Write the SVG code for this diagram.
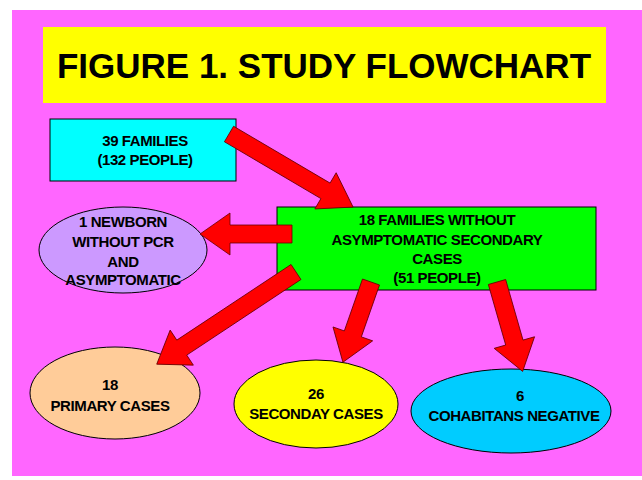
<svg xmlns="http://www.w3.org/2000/svg" width="642" height="480" viewBox="0 0 642 480">
<style>
.n{stroke:#000;stroke-width:1}
.t{font-family:"Liberation Sans",Arial,sans-serif;font-weight:bold;font-size:15px;text-anchor:middle;fill:#000;letter-spacing:-0.4px}
.a{fill:#ff0000;stroke:#600;stroke-width:0.8}
</style>
<rect x="0" y="0" width="642" height="480" fill="#fff"/>
<rect x="12" y="10" width="630" height="466" fill="#ff66ff"/>
<g id="title"><rect x="43" y="27" width="563" height="76" fill="#ffff00"/>
<text x="324" y="78" class="t" style="font-size:35px;letter-spacing:0">FIGURE 1. STUDY FLOWCHART</text></g>
<g id="families"><rect class="n" x="50" y="119" width="186" height="62" fill="#00ffff"/>
<text class="t" x="145" y="146">39 FAMILIES</text><text class="t" x="145" y="165">(132 PEOPLE)</text></g>
<g id="without"><rect class="n" x="277" y="207" width="319" height="83" fill="#00ff00"/>
<text class="t" x="437" y="225">18 FAMILIES WITHOUT</text><text class="t" x="437" y="245">ASYMPTOMATIC SECONDARY</text>
<text class="t" x="437" y="264">CASES</text><text class="t" x="437" y="283">(51 PEOPLE)</text></g>
<g id="newborn"><ellipse class="n" cx="123" cy="250" rx="84" ry="43" fill="#cc99ff"/>
<text class="t" x="123" y="227">1 NEWBORN</text><text class="t" x="123" y="247">WITHOUT PCR</text>
<text class="t" x="123" y="267">AND</text><text class="t" x="123" y="285">ASYMPTOMATIC</text></g>
<g id="primary"><ellipse class="n" cx="115" cy="393" rx="85" ry="46" fill="#ffcc99"/>
<text class="t" x="110" y="390">18</text><text class="t" x="110" y="411">PRIMARY CASES</text></g>
<g id="secondary"><ellipse class="n" cx="316" cy="404" rx="82" ry="44" fill="#ffff00"/>
<text class="t" x="316" y="399">26</text><text class="t" x="316" y="419">SECONDAY CASES</text></g>
<g id="negative"><ellipse class="n" cx="511" cy="411" rx="100" ry="42" fill="#00ccff"/>
<text class="t" x="520" y="401">6</text><text class="t" x="514" y="421">COHABITANS NEGATIVE</text></g>
<g id="connectors">
<g transform="translate(229,134) rotate(30.5)"><path class="a" d="M0,-9 L112,-9 L112,-21 L144,0 L112,21 L112,9 L0,9 Z"/></g>
<g transform="translate(292,234) rotate(180)"><path class="a" d="M0,-9 L62,-9 L62,-21 L92,0 L62,21 L62,9 L0,9 Z"/></g>
<g transform="translate(296,272) rotate(146.5)"><path class="a" d="M0,-9 L137,-9 L137,-21 L167,0 L137,21 L137,9 L0,9 Z"/></g>
<g transform="translate(371,282) rotate(109.3)"><path class="a" d="M0,-9 L55,-9 L55,-21 L85,0 L55,21 L55,9 L0,9 Z"/></g>
<g transform="translate(497,282) rotate(74)"><path class="a" d="M0,-9 L63,-9 L63,-21 L93,0 L63,21 L63,9 L0,9 Z"/></g>
</g>
</svg>
